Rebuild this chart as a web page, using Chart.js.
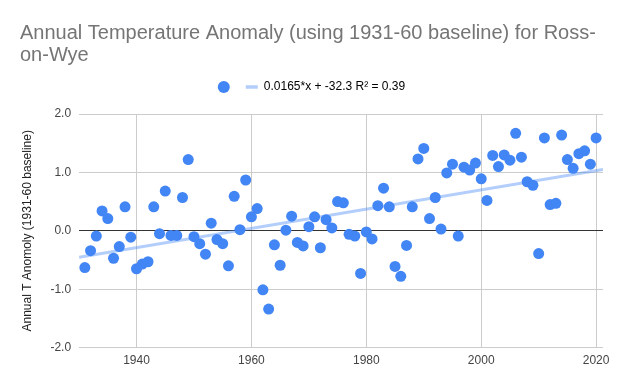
<!DOCTYPE html>
<html>
<head>
<meta charset="utf-8">
<script src="https://cdn.jsdelivr.net/npm/chart.js@4/dist/chart.umd.min.js"></script>
<style>
  html, body { margin: 0; padding: 0; background: #fff; }
  #wrap { width: 623px; height: 386px; position: relative; }
</style>
</head>
<body>
<div id="wrap"><canvas id="Chart" width="623" height="386"></canvas></div>
<script>
// years and anomaly values
var years = [
    1931, 1932, 1933, 1934, 1935, 1936, 1937, 1938, 1939, 1940,
    1941, 1942, 1943, 1944, 1945, 1946, 1947, 1948, 1949, 1950,
    1951, 1952, 1953, 1954, 1955, 1956, 1957, 1958, 1959, 1960,
    1961, 1962, 1963, 1964, 1965, 1966, 1967, 1968, 1969, 1970,
    1971, 1972, 1973, 1974, 1975, 1976, 1977, 1978, 1979, 1980,
    1981, 1982, 1983, 1984, 1985, 1986, 1987, 1988, 1989, 1990,
    1991, 1992, 1993, 1994, 1995, 1996, 1997, 1998, 1999, 2000,
    2001, 2002, 2003, 2004, 2005, 2006, 2007, 2008, 2009, 2010,
    2011, 2012, 2013, 2014, 2015, 2016, 2017, 2018, 2019, 2020
]
var anomalies = [
    -0.63, -0.34, -0.09, 0.34, 0.21, -0.47, -0.27, 0.41, -0.11, -0.65,
    -0.57, -0.53, 0.41, -0.05, 0.68, -0.08, -0.08, 0.57, 1.22, -0.10,
    -0.22, -0.40, 0.13, -0.15, -0.22, -0.60, 0.59, 0.02, 0.87, 0.24,
    0.38, -1.01, -1.34, -0.24, -0.59, 0.01, 0.25, -0.20, -0.26, 0.07,
    0.24, -0.29, 0.19, 0.05, 0.50, 0.48, -0.06, -0.09, -0.73, -0.02,
    -0.14, 0.43, 0.73, 0.41, -0.61, -0.78, -0.25, 0.41, 1.23, 1.41,
    0.21, 0.57, 0.03, 0.99, 1.14, -0.09, 1.09, 1.04, 1.16, 0.89,
    0.52, 1.29, 1.10, 1.30, 1.21, 1.67, 1.26, 0.84, 0.78, -0.39,
    1.59, 0.45, 0.47, 1.64, 1.22, 1.07, 1.32, 1.37, 1.14, 1.59
]
var xTicks = [1940, 1960, 1980, 2000, 2020]
var yTicks = [-2, -1, 0, 1, 2]

// trendline as given in the legend
var slope = 0.0165
var intercept = -32.3
var trendLabel = '0.0165*x + -32.3 R\u00b2 = 0.39'

var xMin = 1930
var xMax = 2021.2

var points = years.map(function(y, i) { return { x: y, y: anomalies[i] } })
var trend = [xMin, xMax].map(function(x) { return { x: x, y: slope * x + intercept } })

var fontFamily = '"Liberation Sans", Arial, sans-serif'
var dotColor = '#4285F4'
var trendColor = 'rgba(66, 133, 244, 0.4)'

const ctx = document.getElementById('Chart');
window.myChart = new Chart(ctx, {
    type: 'scatter',
    data: {
        datasets: [{
            label: '',
            data: points,
            backgroundColor: dotColor,
            borderWidth: 0,
            pointRadius: 5.5,
            pointHoverRadius: 5.5,
            order: 1
        }, {
            type: 'line',
            label: trendLabel,
            data: trend,
            borderColor: trendColor,
            backgroundColor: trendColor,
            borderWidth: 3,
            pointRadius: 0,
            fill: false,
            order: 2
        }]
    },
    options: {
        responsive: false,
        animation: false,
        layout: { padding: { left: 20, right: 20, top: 0, bottom: 12 } },
        plugins: {
            tooltip: { enabled: false },
            title: {
                display: true,
                align: 'start',
                text: ['Annual Temperature Anomaly (using 1931-60 baseline) for Ross-', 'on-Wye'],
                color: '#757575',
                font: { family: fontFamily, size: 20, weight: 'normal', lineHeight: 1.1 },
                padding: { top: 22, bottom: 5 }
            },
            // empty spacer between the legend and the plot
            subtitle: {
                display: true,
                text: '',
                weight: 500,
                font: { size: 11, lineHeight: 1 },
                padding: 0
            },
            legend: {
                display: true,
                position: 'top',
                labels: {
                    usePointStyle: true,
                    boxHeight: 8.5,
                    color: '#222',
                    font: { family: fontFamily, size: 12 },
                    padding: 10,
                    generateLabels: function(chart) {
                        return [{
                            text: '',
                            fillStyle: dotColor,
                            strokeStyle: dotColor,
                            lineWidth: 0,
                            pointStyle: 'circle',
                            datasetIndex: 0
                        }, {
                            text: trendLabel,
                            fillStyle: trendColor,
                            strokeStyle: trendColor,
                            lineWidth: 3.5,
                            pointStyle: 'line',
                            datasetIndex: 1
                        }]
                    }
                }
            }
        },
        scales: {
            x: {
                type: 'linear',
                min: xMin,
                max: xMax,
                afterBuildTicks: function(axis) {
                    axis.ticks = xTicks.map(function(v) { return { value: v } })
                },
                grid: { color: '#cccccc', drawTicks: false },
                border: { display: false },
                ticks: {
                    color: '#444',
                    font: { family: fontFamily, size: 12 },
                    padding: 6,
                    maxRotation: 0,
                    callback: function(v) { return String(v) }
                }
            },
            y: {
                min: -2,
                max: 2,
                afterBuildTicks: function(axis) {
                    axis.ticks = yTicks.map(function(v) { return { value: v } })
                },
                grid: {
                    color: function(c) { return c.tick && c.tick.value === 0 ? '#333333' : '#cccccc' },
                    drawTicks: false
                },
                border: { display: false },
                title: {
                    display: true,
                    text: 'Annual T Anomoly (1931-60 baseline)',
                    color: '#222',
                    font: { family: fontFamily, size: 12 },
                    padding: { top: 0, bottom: 8 }
                },
                ticks: {
                    color: '#444',
                    font: { family: fontFamily, size: 12 },
                    padding: 8,
                    callback: function(v) { return Number(v).toFixed(1) }
                }
            }
        }
    }
});
</script>
</body>
</html>
